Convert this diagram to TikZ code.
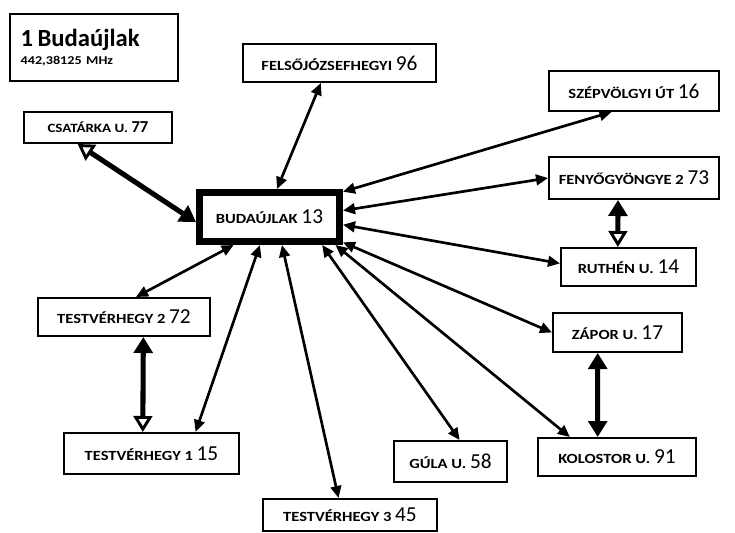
\documentclass[tikz,border=0pt]{standalone}
\usepackage{fontspec}
\setmainfont{Carlito}
\newfontfamily\nevfont[FakeStretch=1.18]{Carlito}
\usetikzlibrary{arrows.meta}

\newcommand{\szam}{\rmfamily\mdseries\fontsize{16}{16}\selectfont}
\tikzset{
  allomas/.style={draw,line width=1.5pt,inner sep=0pt,
    font=\nevfont\fontsize{10.5}{11}\selectfont\bfseries},
  kapcsolat/.style={line width=2pt,
    {Triangle[length=9pt,width=8pt]}-{Triangle[length=9pt,width=8pt]}},
  vastag/.style={line width=3.8pt},
  teli/.tip={Triangle[length=12pt,width=14pt]},
  ures/.tip={Triangle[open,length=12pt,width=14pt,line width=2.2pt]},
}

\begin{document}
\begin{tikzpicture}[x=0.75pt,y=-0.75pt]
\useasboundingbox (0,0) rectangle (735,532);

\node (cim)[draw,line width=1.5pt,inner xsep=8pt,inner ysep=0pt,
  minimum height=50.25pt,text width=110pt,align=left] at (94,47.5)
  {{\fontsize{18.5}{21}\selectfont\bfseries 1 Budaújlak}\\[1pt]
   {\nevfont\fontsize{9}{10}\selectfont\bfseries 442,38125 MHz}};

\node (budaujlak)[allomas,line width=5pt,minimum width=105.25pt,minimum height=37pt]
  at (269.5,217) {BUDAÚJLAK {\szam 13}};

\node (felso)[allomas,minimum width=144.75pt,minimum height=28.5pt]
  at (339.5,63) {FELSŐJÓZSEFHEGYI {\szam 96}};
\node (szep)[allomas,minimum width=127.5pt,minimum height=30pt]
  at (634,91) {SZÉPVÖLGYI ÚT {\szam 16}};
\node (csatarka)[allomas,minimum width=111pt,minimum height=23.25pt,
  font=\nevfont\fontsize{9.5}{10}\selectfont\bfseries]
  at (98,127.5) {CSATÁRKA U. {\rmfamily\fontsize{12.5}{12}\selectfont 77}};
\node (fenyo)[allomas,minimum width=127.5pt,minimum height=31.5pt]
  at (634,178) {FENYŐGYÖNGYE 2 {\szam 73}};
\node (ruthen)[allomas,minimum width=101.25pt,minimum height=28.5pt]
  at (628.5,267) {RUTHÉN U. {\szam 14}};
\node (zapor)[allomas,minimum width=96.75pt,minimum height=29.25pt]
  at (617.5,332.5) {ZÁPOR U. {\szam 17}};
\node (kolostor)[allomas,minimum width=118.5pt,minimum height=28.5pt]
  at (617,457) {KOLOSTOR U. {\szam 91}};
\node (gula)[allomas,minimum width=84.75pt,minimum height=30.75pt]
  at (450.5,461.5) {GÚLA U. {\szam 58}};
\node (tv3)[allomas,minimum width=130.5pt,minimum height=24pt]
  at (350,515) {TESTVÉRHEGY 3 {\szam 45}};
\node (tv2)[allomas,minimum width=129pt,minimum height=28.5pt]
  at (124,317) {TESTVÉRHEGY 2 {\szam 72}};
\node (tv1)[allomas,minimum width=131.25pt,minimum height=30.75pt]
  at (151.5,453.5) {TESTVÉRHEGY 1 {\szam 15}};

% draw the connections
\draw[kapcsolat] (budaujlak.75) -- (felso.-133);
\draw[kapcsolat] (budaujlak.19) -- (szep.-137);
\draw[kapcsolat] (budaujlak.5) -- (fenyo.180);
\draw[kapcsolat] (budaujlak.-6) -- (ruthen.177);
\draw[kapcsolat] (budaujlak.-19) -- (zapor.180);
\draw[kapcsolat] (budaujlak.-23) -- (kolostor.157);
\draw[kapcsolat] (budaujlak.-28) -- (gula.67);
\draw[kapcsolat] (budaujlak.-66) -- (tv3.124);
\draw[kapcsolat] (budaujlak.-109) -- (tv1.26);
\draw[kapcsolat] (budaujlak.-142) -- (tv2.59);

% thick links
\draw[vastag,ures-teli] (csatarka.-141) -- (budaujlak.-176);
\draw[vastag,teli-ures] (fenyo.-126) -- (ruthen.118);
\draw[vastag,teli-teli] (zapor.-134) -- (kolostor.134);
\draw[vastag,teli-ures] (tv2.-46) -- (tv1.112);
\end{tikzpicture}
\end{document}
